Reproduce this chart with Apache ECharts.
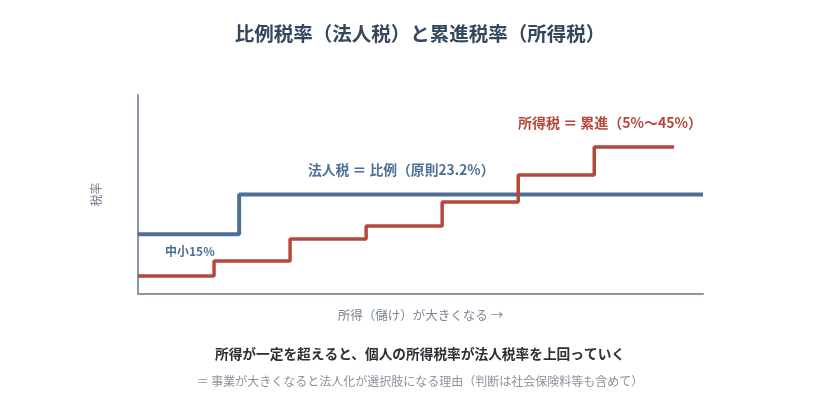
<!DOCTYPE html>
<html>
<head>
  <meta charset="utf-8">
  <title>比例税率と累進税率</title>
  <script src="https://cdn.jsdelivr.net/npm/echarts@6/dist/echarts.min.js"></script>
  <style>
    html, body { margin: 0; padding: 0; background: #fff; }
    #main { width: 840px; height: 420px; }
  </style>
</head>
<body>
  <div id="main"></div>

  <script>
    // 模式図なので値は相対的な高さ（実際の税率ではない）
    const corpX = [0, 1.33, 7.43];
    const corpY = [30, 50, 50];
    const incomeX = [0, 1, 2, 3, 4, 5, 6, 7.05];
    const incomeY = [9, 16.6, 27.6, 34.2, 46.2, 59.8, 73.9, 73.9];

    const BLUE = "#4e7096";
    const RED = "#b5483c";
    const FONT = "'Noto Sans CJK JP', sans-serif";

    const chart = echarts.init(document.getElementById("main"));
    const option = {
      backgroundColor: "#fff",
      textStyle: { fontFamily: FONT },
      title: {
        text: "比例税率（法人税）と累進税率（所得税）",
        left: "center",
        top: 19,
        textStyle: { fontSize: 19.5, fontWeight: "bold", color: "#34475e", fontFamily: FONT }
      },
      grid: { left: 138, right: 137, top: 95, bottom: 126 },
      xAxis: {
        type: "value",
        min: 0,
        max: 7.43,
        name: "所得（儲け）が大きくなる →",
        nameLocation: "middle",
        nameGap: 15,
        nameTextStyle: { color: "#7b8594", fontSize: 12.5, fontFamily: FONT },
        axisLine: { lineStyle: { color: "#8796a8", width: 2 } },
        axisTick: { show: false },
        axisLabel: { show: false },
        splitLine: { show: false }
      },
      yAxis: {
        type: "value",
        min: 0,
        max: 100,
        name: "税率",
        nameLocation: "middle",
        nameGap: 36,
        nameTextStyle: { color: "#7b8594", fontSize: 12, fontFamily: FONT },
        axisLine: { show: true, lineStyle: { color: "#8796a8", width: 2 } },
        axisTick: { show: false },
        axisLabel: { show: false },
        splitLine: { show: false }
      },
      series: [
        {
          name: "法人税",
          type: "line",
          step: "end",
          symbol: "none",
          lineStyle: { color: BLUE, width: 4 },
          data: corpX.map((x, i) => [x, corpY[i]])
        },
        {
          name: "所得税",
          type: "line",
          step: "end",
          symbol: "none",
          lineStyle: { color: RED, width: 3.5 },
          data: incomeX.map((x, i) => [x, incomeY[i]])
        }
      ],
      graphic: [
        {
          type: "text", left: 308, top: 163,
          style: { text: "法人税 ＝ 比例（原則23.2%）", fill: BLUE, font: "bold 13.8px " + FONT }
        },
        {
          type: "text", left: 518, top: 116,
          style: { text: "所得税 ＝ 累進（5%〜45%）", fill: RED, font: "bold 14px " + FONT }
        },
        {
          type: "text", left: 165, top: 245,
          style: { text: "中小15%", fill: BLUE, font: "bold 12px " + FONT }
        },
        {
          type: "text", left: "center", top: 347,
          style: { text: "所得が一定を超えると、個人の所得税率が法人税率を上回っていく", fill: "#2b2f36", font: "bold 13.7px " + FONT }
        },
        {
          type: "text", left: "center", top: 375,
          style: { text: "＝ 事業が大きくなると法人化が選択肢になる理由（判断は社会保険料等も含めて）", fill: "#8a929c", font: "12px " + FONT }
        }
      ]
    };
    chart.setOption(option);
  </script>
</body>
</html>
